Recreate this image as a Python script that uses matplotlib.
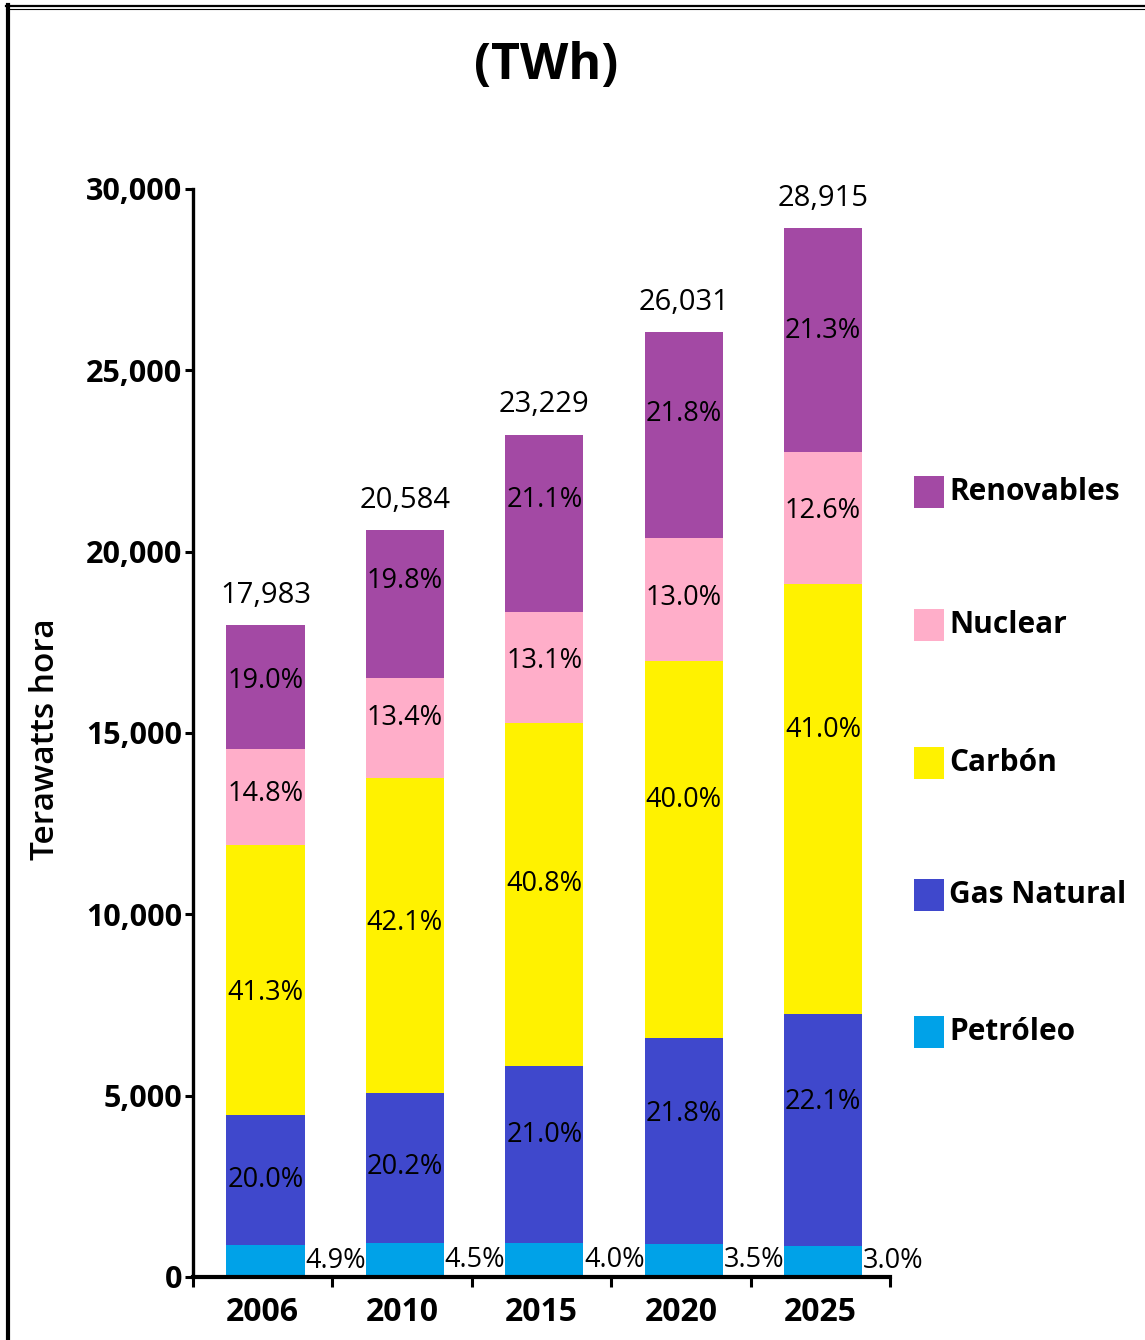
import matplotlib
matplotlib.use("Agg")
import matplotlib.pyplot as plt
from matplotlib.lines import Line2D
from matplotlib.patches import Rectangle
import numpy as np

plt.rcParams['font.family'] = ['Open Sans', 'DejaVu Sans']

# ---- data ----
years = ["2006", "2010", "2015", "2020", "2025"]
totals = [17983, 20584, 23229, 26031, 28915]
series = ["Petróleo", "Gas Natural", "Carbón", "Nuclear", "Renovables"]
pct_petroleo = [4.9, 4.5, 4.0, 3.5, 3.0]
pct_gas = [20.0, 20.2, 21.0, 21.8, 22.1]
pct_carbon = [41.3, 42.1, 40.8, 40.0, 41.0]
pct_nuclear = [14.8, 13.4, 13.1, 13.0, 12.6]
pct_renovables = [19.0, 19.8, 21.1, 21.8, 21.3]
yticks = [0, 5000, 10000, 15000, 20000, 25000, 30000]

# ---- style ----
colors = ["#00A2E8", "#3F48CC", "#FFF200", "#FFAEC9", "#A349A4"]
# vertical placement of the in-bar labels (fraction of segment height)
label_frac = [
    None,
    [0.50, 0.51, 0.61, 0.63, 0.62],
    [0.45, 0.54, 0.53, 0.63, 0.66],
    [0.53, 0.60, 0.56, 0.51, 0.55],
    [0.55, 0.66, 0.63, 0.60, 0.54],
]

W, H = 1145, 1340
fig = plt.figure(figsize=(W / 100, H / 100), dpi=100)
ax = fig.add_axes([193 / W, 1 - 1277 / H, (890 - 193) / W, (1277 - 189) / H])

pcts = [pct_petroleo, pct_gas, pct_carbon, pct_nuclear, pct_renovables]
x = np.arange(len(years)) + 0.02
width = 0.56
bottom = np.zeros(len(years))
for si, (name, p, c) in enumerate(zip(series, pcts, colors)):
    vals = np.array(p) / 100.0 * np.array(totals)
    ax.bar(x, vals, width, bottom=bottom, color=c, edgecolor='none', label=name)
    for i in range(len(years)):
        lab = f"{p[i]:.1f}%"
        if si == 0:
            ax.text(x[i] + width / 2 + 0.005, bottom[i] + vals[i] * 0.5, lab,
                    ha='left', va='center', fontsize=19.5, color='black')
        else:
            ax.text(x[i], bottom[i] + vals[i] * label_frac[si][i], lab,
                    ha='center', va='center', fontsize=19.5, color='black')
    bottom = bottom + vals

for i, t in enumerate(totals):
    ax.annotate(f"{t:,}", (x[i], bottom[i]), xytext=(0, 11), textcoords='offset points',
                ha='center', va='bottom', fontsize=21, color='black')

ax.set_xlim(-0.5, 4.5)
ax.set_ylim(0, 30000)
ax.set_yticks(yticks)
ax.set_yticklabels([f"{v:,}" for v in yticks], fontsize=22, fontweight='bold')
ax.set_xticks(np.arange(len(years)))
ax.set_xticklabels(years, fontsize=23, fontweight='bold')
ax.set_xticks(np.arange(len(years) + 1) - 0.5, minor=True)
ax.tick_params(axis='x', which='major', length=0, pad=14)
ax.tick_params(axis='x', which='minor', length=7, width=2.2, direction='out')
ax.tick_params(axis='y', length=6, width=2.2, direction='out', pad=2)
for s in ['top', 'right']:
    ax.spines[s].set_visible(False)
ax.spines['left'].set_linewidth(2.4)
ax.spines['bottom'].set_linewidth(3.0)

fig.text(46 / W, 1 - 739 / H, "Terawatts hora", rotation=90, ha='center', va='center',
         fontsize=24, fontweight='semibold')
fig.text(546 / W, 1 - 66 / H, "(TWh)", ha='center', va='center', fontsize=36,
         fontweight='bold')

# legend (manual, top to bottom)
leg_y = [492, 625, 763, 895, 1032]
for k, si in enumerate(range(len(series) - 1, -1, -1)):
    yc = leg_y[k]
    fig.add_artist(Rectangle((914 / W, 1 - (yc + 16) / H), 30 / W, 32 / H,
                             transform=fig.transFigure, facecolor=colors[si],
                             edgecolor='none'))
    fig.text(949 / W, 1 - yc / H, series[si], ha='left', va='center',
             fontsize=21.5, fontweight='bold')

# border lines
fig.add_artist(Line2D([6 / W, 1], [1 - 5.5 / H, 1 - 5.5 / H], color='black', lw=1.6,
                      transform=fig.transFigure))
fig.add_artist(Line2D([6 / W, 1], [1 - 8.8 / H, 1 - 8.8 / H], color='black', lw=0.8,
                      transform=fig.transFigure))
fig.add_artist(Line2D([8 / W, 8 / W], [0, 1 - 5 / H], color='black', lw=3.0,
                      transform=fig.transFigure))

fig.savefig("out.png", dpi=100, facecolor='white')
